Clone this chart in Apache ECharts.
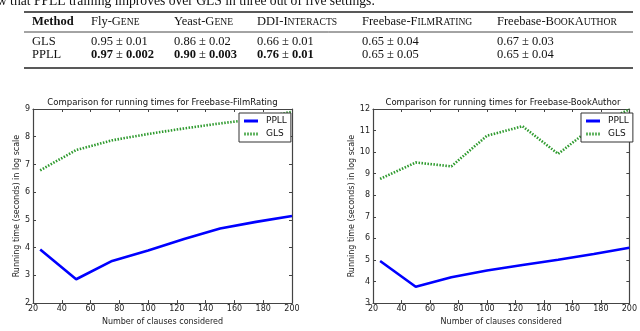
<!DOCTYPE html>
<html>
<head>
<meta charset="utf-8">
<script src="https://cdn.jsdelivr.net/npm/echarts@6/dist/echarts.min.js"></script>
<style>
html,body{margin:0;padding:0;background:#fff;}
#c{width:640px;height:331px;}
</style>
</head>
<body>
<div id="c"></div>
<script>
// ---- data ----
const clauses = [25, 50, 75, 100, 125, 150, 175, 200];
const filmPPLL = [3.93, 2.86, 3.52, 3.9, 4.31, 4.69, 4.93, 5.14];
const filmGLS = [6.79, 7.52, 7.87, 8.1, 8.3, 8.48, 8.64, 8.9];
const bookPPLL = [4.95, 3.76, 4.2, 4.51, 4.77, 5.01, 5.28, 5.57];
const bookGLS = [8.76, 9.52, 9.34, 10.76, 11.2, 9.92, 11.2, 11.98];
const seriesNames = ['PPLL', 'GLS'];
const chartTitles = ['Comparison for running times for Freebase-FilmRating', 'Comparison for running times for Freebase-BookAuthor'];
const xName = 'Number of clauses considered';
const yName = 'Running time (seconds) in log scale';

const caption = 'show that PPLL training improves over GLS in three out of five settings.';
const tableHeaders = [['Method'], ['Fly-G', 'ENE'], ['Yeast-G', 'ENE'], ['DDI-I', 'NTERACTS'], ['Freebase-F', 'ILM', 'R', 'ATING'], ['Freebase-B', 'OOK', 'A', 'UTHOR']];
const tableMethods = ['GLS', 'PPLL'];
const glsScores = ['0.95 ± 0.01', '0.86 ± 0.02', '0.66 ± 0.01', '0.65 ± 0.04', '0.67 ± 0.03'];
const ppllScores = ['0.97 ± 0.002', '0.90 ± 0.003', '0.76 ± 0.01', '0.65 ± 0.05', '0.65 ± 0.04'];
const ppllBold = [true, true, true, false, false];

// ---- layout ----
const colX = [32, 91, 174, 257, 362, 497];
const serif = '"Liberation Serif","Times New Roman",serif';
const sans = '"DejaVu Sans",sans-serif';
const grids = [
  {left: 33, top: 109, width: 259, height: 203},
  {left: 373, top: 109, width: 260, height: 203}
];
const yRanges = [[2, 9], [3, 12]];

const chart = echarts.init(document.getElementById('c'), null, {renderer: 'canvas'});

function headerRich(parts) {
  if (parts.length === 1) return {text: '{b|' + parts[0] + '}'};
  let t = '';
  parts.forEach((p, i) => { t += (i % 2 === 0 ? '{n|' : '{s|') + p + '}'; });
  return {text: t};
}

const graphic = [];
graphic.push({type: 'text', left: -22, top: -6, style: {text: caption, font: '13.6px ' + serif, fill: '#111'}});
graphic.push({type: 'line', shape: {x1: 24, y1: 12, x2: 633, y2: 12}, style: {stroke: '#222', lineWidth: 1.6}});
graphic.push({type: 'line', shape: {x1: 24, y1: 32, x2: 633, y2: 32}, style: {stroke: '#333', lineWidth: 0.9}});
graphic.push({type: 'line', shape: {x1: 24, y1: 68, x2: 633, y2: 68}, style: {stroke: '#222', lineWidth: 1.6}});
const rich = {
  b: {fontFamily: serif, fontSize: 12.5, fontWeight: 'bold', fill: '#111'},
  n: {fontFamily: serif, fontSize: 12.5, fill: '#111'},
  s: {fontFamily: serif, fontSize: 9.6, fill: '#111'}
};
tableHeaders.forEach((h, i) => {
  graphic.push({type: 'text', x: colX[i], y: 22, style: Object.assign(headerRich(h), {rich: rich, verticalAlign: 'middle', fill: '#111'})});
});
tableMethods.forEach((m, r) => {
  graphic.push({type: 'text', x: colX[0], y: 42 + r * 13, style: {text: m, font: '12.5px ' + serif, verticalAlign: 'middle', fill: '#111'}});
});
glsScores.forEach((s, i) => {
  graphic.push({type: 'text', x: colX[i + 1], y: 42, style: {text: s, font: '12.5px ' + serif, verticalAlign: 'middle', fill: '#111'}});
});
ppllScores.forEach((s, i) => {
  const parts = s.split(' ± ');
  const txt = ppllBold[i] ? '{b|' + parts[0] + '}{n| ± }{b|' + parts[1] + '}' : '{n|' + s + '}';
  graphic.push({type: 'text', x: colX[i + 1], y: 55, style: {text: txt, rich: rich, verticalAlign: 'middle', fill: '#111'}});
});

const axisLineStyle = {color: '#444', width: 1.2};
const xAxes = [], yAxes = [];
grids.forEach((g, gi) => {
  xAxes.push({type: 'value', gridIndex: gi, position: 'bottom', min: 20, max: 200, interval: 20,
    name: xName, nameLocation: 'middle', nameGap: 11,
    nameTextStyle: {fontFamily: sans, fontSize: 8, color: '#222'},
    axisLine: {show: true, lineStyle: axisLineStyle},
    axisTick: {inside: true, length: 3, lineStyle: {color: '#444'}},
    axisLabel: {fontFamily: sans, fontSize: 8, color: '#222', margin: 2},
    splitLine: {show: false}});
  xAxes.push({type: 'value', gridIndex: gi, position: 'top', min: 20, max: 200, interval: 20,
    axisLine: {show: true, lineStyle: axisLineStyle},
    axisTick: {inside: true, length: 3, lineStyle: {color: '#444'}},
    axisLabel: {show: false}, splitLine: {show: false}});
  yAxes.push({type: 'value', gridIndex: gi, position: 'left', min: yRanges[gi][0], max: yRanges[gi][1], interval: 1,
    name: yName, nameLocation: 'middle', nameGap: gi === 0 ? 12 : 16, nameRotate: 90,
    nameTextStyle: {fontFamily: sans, fontSize: 8, color: '#222'},
    axisLine: {show: true, lineStyle: axisLineStyle},
    axisTick: {inside: true, length: 3, lineStyle: {color: '#444'}},
    axisLabel: {fontFamily: sans, fontSize: 8, color: '#222', margin: 3},
    splitLine: {show: false}});
  yAxes.push({type: 'value', gridIndex: gi, position: 'right', min: yRanges[gi][0], max: yRanges[gi][1], interval: 1,
    axisLine: {show: true, lineStyle: axisLineStyle},
    axisTick: {inside: true, length: 3, lineStyle: {color: '#444'}},
    axisLabel: {show: false}, splitLine: {show: false}});
});

const seriesData = [[filmPPLL, filmGLS], [bookPPLL, bookGLS]];
const series = [];
seriesData.forEach((pair, gi) => {
  series.push({name: seriesNames[0], type: 'line', xAxisIndex: gi * 2, yAxisIndex: gi * 2,
    data: clauses.map((c, i) => [c, pair[0][i]]), symbol: 'none', silent: true,
    lineStyle: {color: '#0000ff', width: 2.6}, itemStyle: {color: '#0000ff'}});
  series.push({name: seriesNames[1], type: 'line', xAxisIndex: gi * 2, yAxisIndex: gi * 2,
    data: clauses.map((c, i) => [c, pair[1][i]]), symbol: 'none', silent: true,
    lineStyle: {color: '#2e9a2e', width: 2.6, type: [1.5, 1.5]}, itemStyle: {color: '#2e9a2e'}});
});

const solidIcon = 'path://M0,0H14V3H0Z';
const dotIcon = 'path://M0,0H1.5V3H0ZM3,0H4.5V3H3ZM6,0H7.5V3H6ZM9,0H10.5V3H9ZM12,0H13.5V3H12Z';
const legendBase = {orient: 'vertical', top: 113, itemWidth: 14, itemHeight: 3, itemGap: 3,
  padding: [3, 4, 3, 5], borderColor: '#333', borderWidth: 1, backgroundColor: '#fff', borderRadius: 0,
  textStyle: {fontFamily: sans, fontSize: 9, color: '#111', padding: [0, 0, 0, 3], height: 10, lineHeight: 10},
  data: [{name: seriesNames[0], icon: solidIcon}, {name: seriesNames[1], icon: dotIcon}],
  selectedMode: false, z: 10};

chart.setOption({
  animation: false,
  grid: grids,
  title: chartTitles.map((t, i) => ({text: t, left: grids[i].left + grids[i].width / 2, top: 98, textAlign: 'center', padding: 0,
    textStyle: {fontFamily: sans, fontSize: 8.5, fontWeight: 'normal', color: '#111'}})),
  legend: [Object.assign({}, legendBase, {left: 239}), Object.assign({}, legendBase, {left: 581})],
  xAxis: xAxes,
  yAxis: yAxes,
  series: series,
  graphic: graphic
});
</script>
</body>
</html>
